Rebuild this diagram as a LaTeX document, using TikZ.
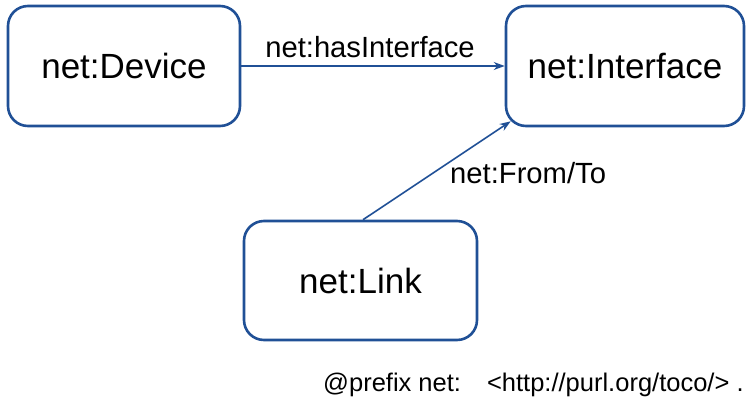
\documentclass[tikz,border=0pt]{standalone}
\usepackage{fontspec}
\setmainfont{Liberation Sans}
\usetikzlibrary{arrows.meta,calc}
\definecolor{edgeblue}{RGB}{32,80,150}
\tikzset{
  classbox/.style={draw=edgeblue, line width=2.6pt, rounded corners=20pt,
    fill=white, inner sep=0pt, minimum height=120pt,
    font=\fontsize{35}{40}\selectfont},
  relarrow/.style={draw=edgeblue, line width=1.6pt,
    -{Stealth[length=11pt,width=8pt]}},
  rellabel/.style={inner sep=0pt, font=\fontsize{29.2}{34}\selectfont},
  prefixtext/.style={inner sep=0pt, font=\fontsize{25.5}{30}\selectfont}
}
\begin{document}
\begin{tikzpicture}[x=1pt,y=-1pt]
  \useasboundingbox (0,0) rectangle (752,402);

  % classes
  \node[classbox, minimum width=232pt] (device) at (124,66) {net:Device};
  \node[classbox, minimum width=238pt] (iface)  at (625,66) {net:Interface};
  \node[classbox, minimum width=233pt, minimum height=119pt] (link) at (360.5,280.5) {net:Link};

  % point on the rounded lower-left corner of the interface box
  \coordinate (ifcorner) at ($(iface.south west)+(6,-6)$);

  % relations
  \draw[relarrow] (device.east) -- (iface.west);
  \draw[relarrow] ($(link.north)+(2.5,0)$) -- (ifcorner);

  \node[rellabel, anchor=base] (haslbl) at (370,57) {net:hasInterface};
  \node[rellabel, anchor=base west] (fromlbl) at (450,183) {net:From/To};

  % namespace declaration
  \node[prefixtext, anchor=base west] (pfx) at (323,391)
    {@prefix net:\hspace{26pt}<http://purl.org/toco/> .};
\end{tikzpicture}
\end{document}
